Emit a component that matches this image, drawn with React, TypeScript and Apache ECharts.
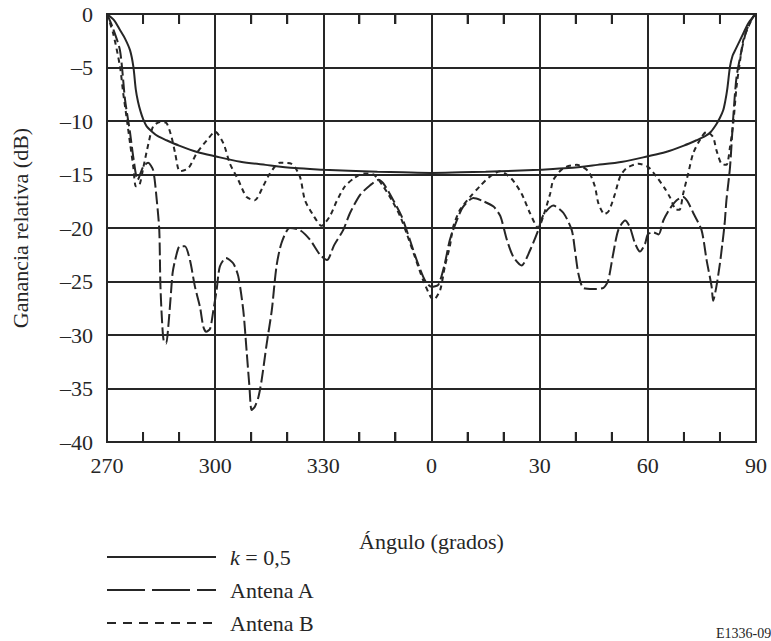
import React, { useEffect, useRef } from "react";
import * as echarts from "echarts";

// Angles on a continuous scale 270..450 (360..450 shown as 0..90)
const xTickLabels = ["270", "300", "330", "0", "30", "60", "90"];
const minorTickAngles = [280, 290, 310, 320, 340, 350, 370, 380, 400, 410, 430, 440];

const kAngles = [270, 272, 273.6, 275, 276.4, 277.3, 278, 278.6, 279.3, 280, 281, 282.5, 284, 286.5, 290, 295, 300, 307, 314, 322, 330, 337, 345, 352, 360, 368, 375, 383, 390, 398, 406, 413, 420, 425, 430, 433.5, 436, 437.5, 439, 440, 440.9, 441.5, 442, 442.8, 443.5, 444.2, 446.5, 448, 450];
const kGain = [0, -0.6, -1.5, -2.3, -3.4, -4.9, -7.1, -8.2, -9.1, -9.8, -10.5, -11.0, -11.4, -11.8, -12.3, -12.9, -13.3, -13.8, -14.1, -14.4, -14.55, -14.65, -14.75, -14.8, -14.85, -14.8, -14.75, -14.65, -14.55, -14.4, -14.1, -13.8, -13.3, -12.9, -12.3, -11.8, -11.4, -11.0, -10.3, -9.7, -9.0, -8.1, -7.1, -4.9, -3.9, -3.4, -1.8, -0.8, 0];

const aAngles = [270, 271.5, 273.6, 275, 276.4, 277.3, 278.5, 280, 281.4, 282.8, 283.8, 284.5, 284.8, 285.2, 285.7, 286.4, 287, 287.6, 288.2, 288.9, 290.2, 291.6, 293, 294.4, 295.8, 296.7, 297.5, 298.6, 299.5, 300.4, 301.3, 303, 305, 306.4, 307.8, 308.7, 309.5, 310.1, 311, 312, 312.9, 314.3, 315.7, 317, 318.4, 320.7, 323.5, 326.3, 329.1, 331, 333, 335.5, 337.4, 340.2, 343, 345.3, 346.6, 349.4, 351.7, 354, 355.9, 358.2, 360, 361.9, 363.7, 365.1, 367, 368.8, 371.6, 374.4, 377.2, 379.1, 380.9, 382.7, 385, 387.3, 389.6, 391, 393.8, 396.6, 398.9, 399.8, 400.7, 402.1, 404.9, 407.7, 409, 410.4, 411.8, 413.7, 415, 416.4, 417.8, 419.2, 420, 421.5, 423, 424.3, 426.1, 428, 429.8, 431, 432.6, 434.9, 436.3, 437.7, 438.1, 439, 440, 440.7, 441.3, 441.8, 442.8, 443.7, 444.6, 446, 447.4, 449.2, 450];
const aGain = [0, -1.2, -3.4, -8.0, -11.1, -13.4, -15.5, -14.3, -13.9, -14.6, -17.4, -20.2, -25.2, -28.3, -30.5, -30.8, -29.2, -26.7, -24.2, -23.0, -21.7, -21.7, -23.0, -25.5, -27.4, -29.2, -29.7, -29.4, -27.7, -25.8, -23.6, -22.8, -23.3, -24.5, -27.7, -31.4, -34.8, -37.0, -36.7, -35.8, -34.2, -30.8, -27.7, -23.6, -21.4, -20.0, -20.2, -21.1, -22.5, -23.0, -21.6, -20.2, -18.6, -16.9, -16.0, -15.5, -15.8, -17.4, -18.9, -21.1, -23.0, -24.9, -25.5, -25.3, -23.3, -21.1, -19.3, -18.0, -17.2, -17.5, -18.0, -18.9, -21.1, -22.7, -23.5, -22.1, -20.2, -18.8, -17.9, -18.6, -20.2, -22.1, -24.2, -25.6, -25.7, -25.6, -24.9, -22.4, -20.2, -19.3, -19.9, -21.4, -22.2, -21.5, -20.6, -20.4, -20.6, -19.3, -18.2, -17.4, -17.1, -17.5, -18.6, -20.2, -23.0, -25.5, -26.8, -25.5, -23.3, -21.4, -19.6, -17.4, -14.3, -9.6, -5.9, -3.4, -1.5, -0.25, 0];

const bAngles = [270, 271.7, 273.6, 274.5, 275.4, 276.4, 277.3, 278, 279, 280.1, 281.5, 282.8, 284.7, 286.5, 287.9, 288.9, 290.2, 292.6, 294.9, 297.7, 300, 302.3, 304.1, 306.4, 308.7, 311, 313.3, 315.2, 317.9, 321.2, 323.5, 324.9, 327.2, 329.5, 331.8, 333.7, 336, 338.3, 341.1, 343.9, 346.6, 349, 351.3, 353.1, 355.4, 357.7, 359.7, 360.6, 362.4, 363.7, 365.1, 366, 367.9, 370.7, 373.4, 376.2, 379, 382.2, 385, 387.3, 389.6, 391, 392.9, 393.8, 396.6, 400.3, 403.5, 405.3, 406.3, 408, 409.2, 410.9, 412.3, 414.1, 417.4, 420.1, 422.4, 424.7, 426.1, 427.9, 428.8, 429.8, 431.2, 432.6, 434.9, 436.3, 438.1, 439, 440.4, 441.8, 442.8, 443.7, 444.6, 445.6, 446.5, 447.9, 449.2, 450];
const bGain = [0, -1.8, -4.9, -7.4, -9.6, -12.1, -14.3, -16.1, -16.0, -14.3, -12.1, -10.5, -10.1, -10.2, -11.5, -13.0, -14.7, -14.4, -13.0, -11.8, -11.0, -12.1, -14.0, -15.5, -17.1, -17.4, -16.1, -14.9, -13.9, -14.0, -15.2, -17.4, -18.8, -19.8, -18.9, -17.5, -16.1, -15.4, -14.9, -15.0, -16.1, -17.4, -18.9, -20.5, -22.7, -24.9, -26.4, -26.7, -25.8, -23.6, -21.7, -19.9, -18.3, -17.1, -16.1, -15.2, -14.7, -15.4, -16.8, -18.6, -20.0, -18.9, -16.8, -15.5, -14.4, -14.1, -14.7, -16.1, -17.7, -18.7, -18.4, -16.8, -15.2, -14.4, -14.0, -14.3, -15.2, -16.3, -17.1, -18.3, -18.3, -16.8, -14.9, -13.0, -11.5, -11.0, -11.5, -12.7, -14.0, -14.1, -12.4, -10.2, -6.8, -4.3, -2.4, -1.2, -0.25, 0];

const seriesNames = ["k = 0,5", "Antena A", "Antena B"];
const legendDash: (number[] | null)[] = [null, [38, 7], [9, 7]];

const FONT = "'Liberation Serif', 'Times New Roman', serif";
const INK = "#262626";
const X_MIN = 270;
const X_MAX = 450;
const Y_MIN = -40;
const Y_MAX = 0;
const W = 771;
const H = 641;
const GRID = { left: 107, right: 15, top: 14, bottom: 199 };
const TICK_PX = 10;

function pairs(xs: number[], ys: number[]) {
  return xs.map((x, i) => [x, ys[i]]);
}

export default function App() {
  const ref = useRef<HTMLDivElement>(null);
  useEffect(() => {
    if (!ref.current) return;
    const chart = echarts.init(ref.current, undefined, { renderer: "svg", width: W, height: H });
    const xLabel = (v: number) => {
      const idx = Math.round((v - 270) / 30);
      return xTickLabels[idx] ?? "";
    };

    const plotW = W - GRID.left - GRID.right;
    const plotH = H - GRID.top - GRID.bottom;
    const xPx = (a: number) => GRID.left + ((a - X_MIN) / (X_MAX - X_MIN)) * plotW;
    const yPx = (v: number) => GRID.top + ((Y_MAX - v) / (Y_MAX - Y_MIN)) * plotH;

    const graphics: any[] = [];
    seriesNames.forEach((name, i) => {
      const y = 557 + i * 33;
      graphics.push({
        type: "line",
        shape: { x1: 107, y1: y, x2: 216, y2: y },
        style: { stroke: INK, lineWidth: 2.2, lineDash: legendDash[i] ?? undefined },
      });
      graphics.push({
        type: "text",
        x: 230,
        y: y,
        style: {
          text: i === 0 ? "{i|k} = 0,5" : name,
          fontFamily: FONT,
          fontSize: 22,
          fill: INK,
          verticalAlign: "middle",
          rich: { i: { fontFamily: FONT, fontSize: 22, fontStyle: "italic", fill: INK } },
        },
      });
    });
    minorTickAngles.forEach((a) => {
      const x = Math.round(xPx(a));
      const yb = yPx(Y_MIN);
      const yt = yPx(Y_MAX);
      graphics.push({
        type: "line",
        shape: { x1: x, y1: yb, x2: x, y2: yb - TICK_PX },
        style: { stroke: INK, lineWidth: 2 },
      });
      graphics.push({
        type: "line",
        shape: { x1: x, y1: yt, x2: x, y2: yt + TICK_PX },
        style: { stroke: INK, lineWidth: 2 },
      });
    });
    graphics.push({
      type: "text",
      x: 716,
      y: 626,
      style: { text: "E1336-09", fontFamily: FONT, fontSize: 14, fill: INK },
    });

    chart.setOption({
      animation: false,
      backgroundColor: "#fff",
      grid: { ...GRID, show: true, borderColor: INK, borderWidth: 2 },
      xAxis: {
        type: "value",
        position: "bottom",
        min: X_MIN,
        max: X_MAX,
        interval: 30,
        name: "Ángulo (grados)",
        nameLocation: "middle",
        nameGap: 88,
        nameTextStyle: { fontFamily: FONT, fontSize: 22, color: INK },
        axisLine: { show: false },
        axisTick: { show: false },
        axisLabel: { formatter: xLabel, margin: 12, fontFamily: FONT, fontSize: 22, color: INK },
        splitLine: { show: true, lineStyle: { color: INK, width: 2 } },
      },
      yAxis: {
        type: "value",
        position: "left",
        min: Y_MIN,
        max: Y_MAX,
        interval: 5,
        name: "Ganancia relativa (dB)",
        nameLocation: "middle",
        nameGap: 76,
        nameTextStyle: { fontFamily: FONT, fontSize: 22, color: INK },
        axisLine: { show: false },
        axisTick: { show: false },
        axisLabel: {
          margin: 14,
          fontFamily: FONT,
          fontSize: 22,
          color: INK,
          formatter: (v: number) => (v === 0 ? "0" : "–" + Math.abs(v)),
        },
        splitLine: { show: true, lineStyle: { color: INK, width: 2 } },
      },
      graphic: graphics,
      series: [
        {
          name: "ticks-bottom",
          type: "scatter",
          data: minorTickAngles.map((a) => [a, Y_MIN]),
          symbol: "rect",
          symbolSize: [2, TICK_PX],
          symbolOffset: [0, -TICK_PX / 2],
          itemStyle: { color: INK },
          clip: false,
          silent: true,
          z: 4,
        },
        {
          name: "ticks-top",
          type: "scatter",
          data: minorTickAngles.map((a) => [a, Y_MAX]),
          symbol: "rect",
          symbolSize: [2, TICK_PX],
          symbolOffset: [0, TICK_PX / 2],
          itemStyle: { color: INK },
          clip: false,
          silent: true,
          z: 4,
        },
        {
          name: seriesNames[0],
          type: "line",
          data: pairs(kAngles, kGain),
          smooth: 0.3,
          symbol: "none",
          lineStyle: { color: INK, width: 2, type: "solid" },
          itemStyle: { color: INK },
          z: 3,
        },
        {
          name: seriesNames[1],
          type: "line",
          data: pairs(aAngles, aGain),
          smooth: 0.25,
          symbol: "none",
          lineStyle: { color: INK, width: 2, type: [13, 4] },
          itemStyle: { color: INK },
          z: 3,
        },
        {
          name: seriesNames[2],
          type: "line",
          data: pairs(bAngles, bGain),
          smooth: 0.25,
          symbol: "none",
          lineStyle: { color: INK, width: 2, type: [5, 4] },
          itemStyle: { color: INK },
          z: 3,
        },
      ],
    });

    return () => chart.dispose();
  }, []);
  return (
    <div
      ref={ref}
      style={{ position: "fixed", left: 0, top: 0, width: W, height: H, background: "#fff" }}
    />
  );
}
